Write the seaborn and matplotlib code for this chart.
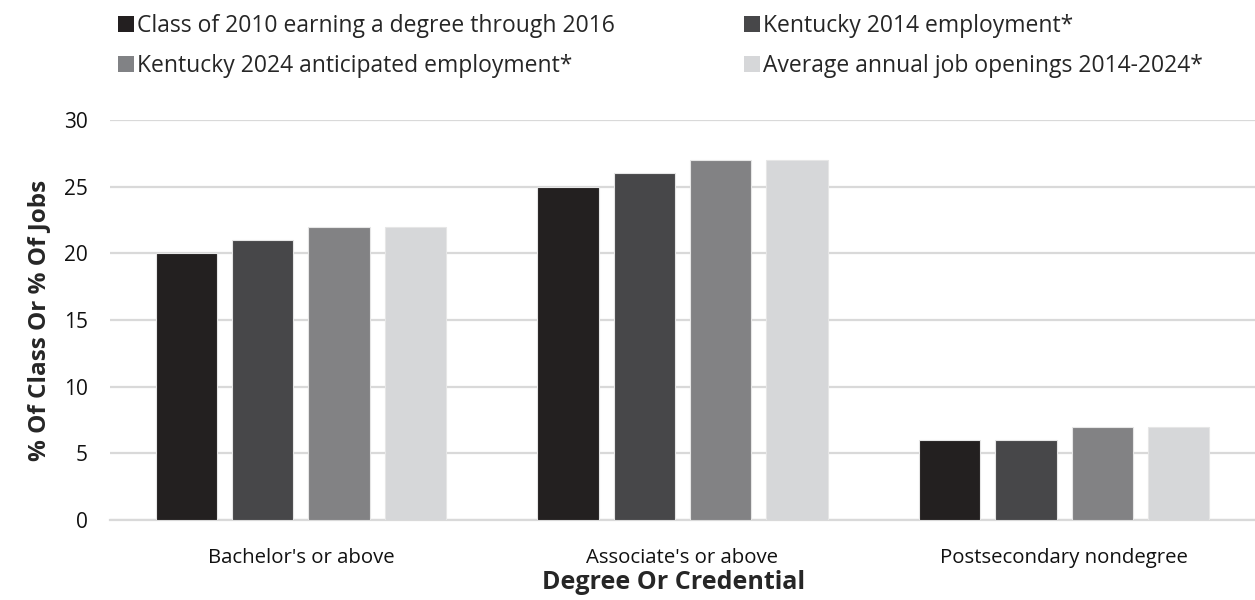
import matplotlib
matplotlib.use("Agg")
import matplotlib.pyplot as plt
import seaborn as sns
import pandas as pd
from matplotlib.patches import Patch

categories = ["Bachelor's or above", "Associate's or above", "Postsecondary nondegree"]
series_names = [
    "Class of 2010 earning a degree through 2016",
    "Kentucky 2014 employment*",
    "Kentucky 2024 anticipated employment*",
    "Average annual job openings 2014-2024*",
]
class_2010 = [20, 25, 6]
ky_2014 = [21, 26, 6]
ky_2024 = [22, 27, 7]
job_openings = [22, 27, 7]
colors = ["#231f20", "#474749", "#818285", "#d6d7d9"]

rows = []
for name, vals in zip(series_names, [class_2010, ky_2014, ky_2024, job_openings]):
    for cat, v in zip(categories, vals):
        rows.append({"category": cat, "series": name, "value": v})
df = pd.DataFrame(rows)

sns.set_theme(style="white")
plt.rcParams["font.family"] = ["Open Sans", "DejaVu Sans"]

fig = plt.figure(figsize=(12.55, 6), dpi=100)
ax = fig.add_axes([110 / 1255, 80 / 600, 1145 / 1255, 400 / 600])

sns.barplot(data=df, x="category", y="value", hue="series", hue_order=series_names,
            palette=colors, width=0.8, gap=0.2, ax=ax, legend=False,
            edgecolor="#e6e6e6", linewidth=0.8, zorder=3)

ax.set_ylim(0, 30)
ax.set_yticks([0, 5, 10, 15, 20, 25, 30])
ax.set_xlim(-0.5, 2.5)
ax.yaxis.grid(True, color="#d9d9d9", linewidth=1.6, zorder=0)
ax.set_axisbelow(True)
for s in ["top", "right", "left"]:
    ax.spines[s].set_visible(False)
ax.spines["bottom"].set_color("#d9d9d9")
ax.spines["bottom"].set_linewidth(1.6)
ax.tick_params(axis="y", length=0, labelsize=15, colors="#111111", pad=16)
ax.tick_params(axis="x", length=0, labelsize=14.7, colors="#111111", pad=20)

ax.set_xlabel("Degree Or Credential", fontsize=18, fontweight="bold")
ax.xaxis.set_label_coords(0.4926, -0.126)
ax.set_ylabel("% Of Class Or % Of Jobs", fontsize=17.5, fontweight="bold", labelpad=9)

handles = [Patch(facecolor=c, edgecolor="none") for c in colors]
order = [0, 2, 1, 3]
fig.legend([handles[i] for i in order], [series_names[i] for i in order],
           ncol=2, loc="upper left", bbox_to_anchor=(0.083, 1.0), frameon=False,
           fontsize=16.5, handlelength=0.7, handleheight=0.7, handletextpad=0.15,
           columnspacing=5.6, labelspacing=0.7, borderaxespad=0.2)

fig.savefig("out.png", dpi=100)
